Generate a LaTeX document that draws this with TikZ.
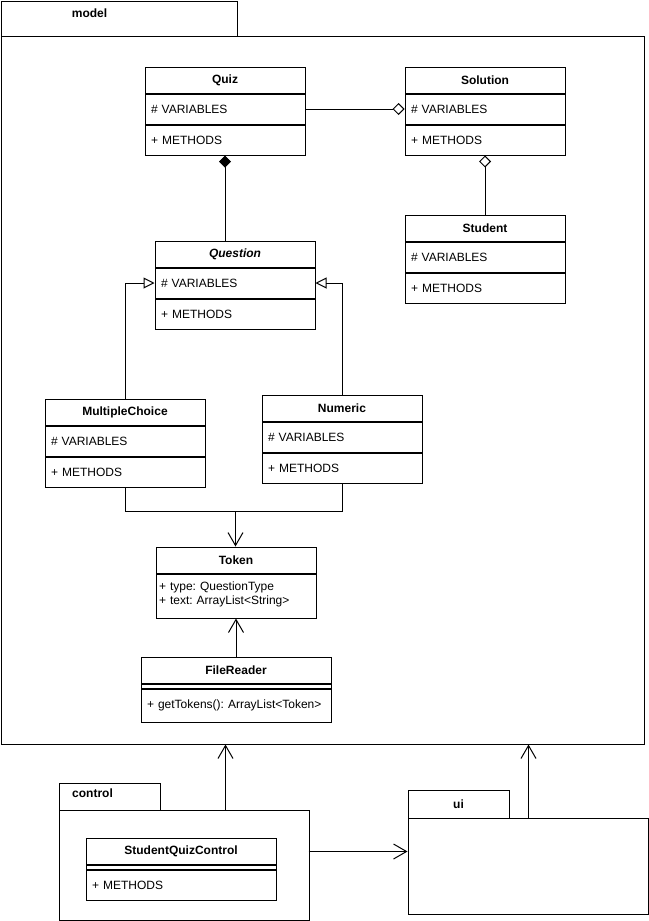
\documentclass[tikz,border=0pt]{standalone}
\usepackage{fontspec}
\setmainfont{Liberation Sans}
\usetikzlibrary{arrows.meta}
\newcommand{\dfont}{\fontsize{12}{14}\selectfont\frenchspacing}
\tikzset{
  box/.style={draw, anchor=north west, inner sep=0pt},
  ttl/.style={box, minimum width=#1, minimum height=26pt, font=\dfont\bfseries},
  fld/.style={box, text width=#1, inner xsep=6pt, inner ysep=0pt, align=left, minimum height=30pt, font=\dfont},
  gap/.style={box, minimum width=#1, minimum height=4pt},
  pkg/.style={box, minimum width=#1},
  pkglabel/.style={font=\dfont\bfseries},
  openarrow/.style={-{Straight Barb[length=13pt,width=15pt]}},
  genarrow/.style={-{Triangle[open,length=11pt,width=11pt]}},
  aggarrow/.style={-{Diamond[open,length=12pt,width=12pt]}},
  comparrow/.style={{Diamond[length=12pt,width=12pt]}-},
  aggstart/.style={{Diamond[open,length=12pt,width=12pt]}-},
}
\begin{document}
\begin{tikzpicture}[x=1pt, y=-1pt, line width=1pt, font=\dfont]
\useasboundingbox (0,0) rectangle (648,921);
\begin{scope}[shift={(0.5,0.5)}]
% packages
\node[pkg=236pt, minimum height=35pt] (model-tab) at (0,0) {};
\node[pkg=643pt, minimum height=708pt] (model) at (0,35) {};
\node[pkglabel] (model-lbl) at (89,13) {model};

\node[pkg=101pt, minimum height=27pt] (ctrl-tab) at (58,782) {};
\node[pkg=250pt, minimum height=110pt] (ctrl) at (58,809) {};
\node[pkglabel] (ctrl-lbl) at (92,793) {control};

\node[pkg=101pt, minimum height=28pt] (ui-tab) at (407,789) {};
\node[pkg=240pt, minimum height=96pt] (ui) at (407,817) {};
\node[pkglabel] (ui-lbl) at (458,804) {ui};

% classes
\node[ttl=160pt] (quiz) at (144,66) {Quiz};
\node[fld=148pt] (quiz-f) at (quiz.south west) {\# VARIABLES};
\node[fld=148pt] (quiz-m) at (quiz-f.south west) {+ METHODS};

\node[ttl=160pt] (sol) at (404,66) {Solution};
\node[fld=148pt] (sol-f) at (sol.south west) {\# VARIABLES};
\node[fld=148pt] (sol-m) at (sol-f.south west) {+ METHODS};

\node[ttl=160pt] (stu) at (404,214) {Student};
\node[fld=148pt] (stu-f) at (stu.south west) {\# VARIABLES};
\node[fld=148pt] (stu-m) at (stu-f.south west) {+ METHODS};

\node[ttl=160pt, font=\dfont\bfseries\itshape] (q) at (154,240) {Question};
\node[fld=148pt] (q-f) at (q.south west) {\# VARIABLES};
\node[fld=148pt] (q-m) at (q-f.south west) {+ METHODS};

\node[ttl=160pt] (mc) at (44,398) {MultipleChoice};
\node[fld=148pt] (mc-f) at (mc.south west) {\# VARIABLES};
\node[fld=148pt] (mc-m) at (mc-f.south west) {+ METHODS};

\node[ttl=160pt] (num) at (261,394) {Numeric};
\node[fld=148pt] (num-f) at (num.south west) {\# VARIABLES};
\node[fld=148pt] (num-m) at (num-f.south west) {+ METHODS};

\node[ttl=160pt] (tok) at (155,546) {Token};
\node[fld=154pt, inner xsep=3pt, minimum height=44pt] (tok-f) at (tok.south west) {+ type: QuestionType\\+ text: ArrayList<String>\rule[-6pt]{0pt}{0pt}};

\node[ttl=190pt] (fr) at (140,656) {FileReader};
\node[gap=190pt] (fr-g) at (fr.south west) {};
\node[fld=178pt, minimum height=33pt] (fr-m) at (fr-g.south west) {+ getTokens(): ArrayList<Token>};

\node[ttl=190pt] (sqc) at (85,837) {StudentQuizControl};
\node[gap=190pt] (sqc-g) at (sqc.south west) {};
\node[fld=178pt, minimum height=30pt] (sqc-m) at (sqc-g.south west) {+ METHODS};

% connectors
\draw[aggarrow] (quiz-f.east) -- (sol-f.west);
\draw[comparrow] (quiz-m.south) -- (quiz-m.south |- q.north);
\draw[aggstart] (sol-m.south) -- (stu.north);
\draw[genarrow] (mc.north) |- (q-f.west);
\draw[genarrow] (num.north) |- (q-f.east);
\coordinate (join) at (235,511);
\draw (mc-m.south) |- (join) -| (num-m.south);
\draw[openarrow] (join) -- (join |- tok.north);
\draw[openarrow] (fr.north) -- (fr.north |- tok-f.south);

\coordinate (c1) at (225,809);
\draw[openarrow] (c1) -- (c1 |- model.south);
\coordinate (c2) at (308,851);
\draw[openarrow] (c2) -- (c2 -| ui.west);
\coordinate (c3) at (528,817);
\draw[openarrow] (c3) -- (c3 |- model.south);
\end{scope}
\end{tikzpicture}
\end{document}
